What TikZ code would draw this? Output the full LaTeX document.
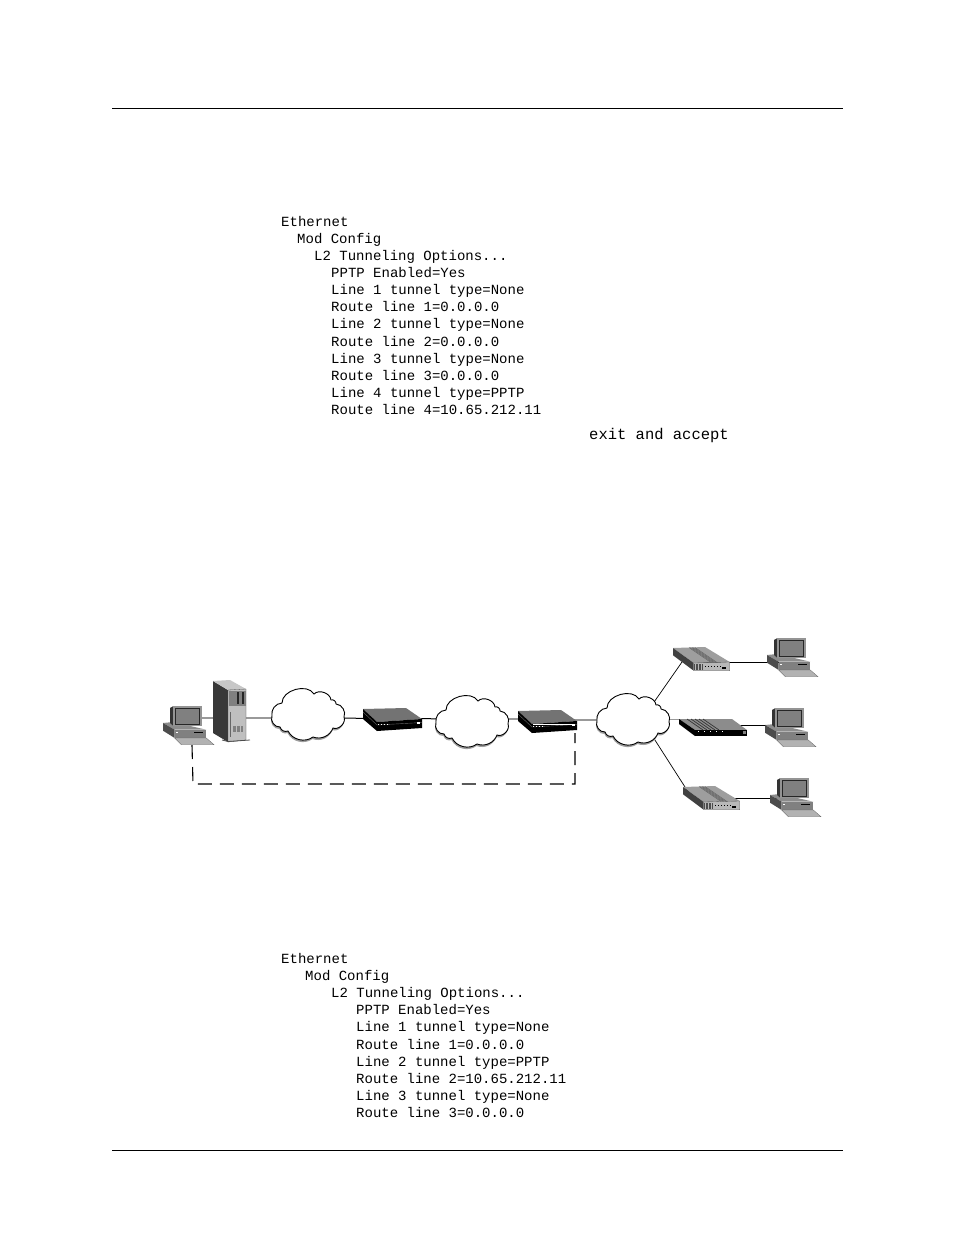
\documentclass[tikz,border=0pt]{standalone}
\usepackage{fontspec}
\setmonofont{Liberation Mono}
\tikzset{
  x=1pt,y=-1pt,
  code/.style={anchor=base west,inner sep=0pt,font=\ttfamily\fontsize{14}{14}\selectfont},
  codebig/.style={anchor=base west,inner sep=0pt,font=\ttfamily\fontsize{15.5}{15.5}\selectfont},
  rulel/.style={line width=0.8pt,black},
  linkb/.style={line width=1pt,black},
  linkg/.style={line width=1.6pt,black!40},
  linkt/.style={line width=0.7pt,black},
  dashl/.style={line width=1.1pt,black,dash pattern=on 14pt off 8pt},
  pics/computer/.style={code={
    \fill[black!45] (0,0)--(10,-1)--(43.3,6.7)--(11.7,6.7)--cycle;
    \fill[black!70] (0,0)--(11.7,6.7)--(11.7,15)--(0,7.7)--cycle;
    \fill[black!50] (11.7,6.7) rectangle (43.3,15);
    \fill[black!30,draw=black!60,line width=.3pt] (11.7,15)--(43.3,15)--(51,21.7)--(18.3,21.7)--cycle;
    \fill[black] (31,8.6) rectangle (40,9.8);
    \fill[white] (13,8.5) rectangle (15,10);
    \fill[black!80] (7,-15)--(10,-16.7)--(10,2.5)--(7,0)--cycle;
    \fill[black!42] (10,-16.7) rectangle (39,3.3);
    \fill[black!50,draw=black!85,line width=.6pt] (12.7,-14.3) rectangle (36.7,1.7);
  }},
  pics/lightmodem/.style={code={
    \fill[black!38] (0,0)--(32,-1)--(56.7,14)--(20.7,15)--cycle;
    \fill[black!75] (0,0)--(20.7,15)--(20.7,22.7)--(0,7.3)--cycle;
    \fill[black!28,draw=black!70,line width=.3pt] (20.7,15)--(56.7,14)--(56.7,22.7)--(20.7,22.7)--cycle;
    \foreach \s in {0,1.5,3,4.5,6}{\draw[black!60,line width=.5pt] (16+\s,-.5)--(38+\s,14.5);}
    \foreach \s in {21.5,23,24.5,26,27.5,29}{\draw[black!70,line width=.7pt] (\s,16)--(\s,22);}
    \foreach \s in {32,35,38,41,44,47}{\fill[black] (\s,17.5) rectangle +(.9,1.2);}
    \fill[black] (49,19) rectangle (53,21);
  }},
  pics/darkmodem/.style={code={
    \fill[black!55] (0,0)--(43,-1)--(59,10)--(14,13)--cycle;
    \fill[black] (0,0)--(14,13)--(14,22)--(0,10)--cycle;
    \fill[black] (14,13)--(59,10)--(59,19)--(14,22)--cycle;
    \draw[black!60,line width=.4pt] (0,3)--(14,16);
    \draw[black!60,line width=.4pt] (14,16)--(59,13.5);
    \foreach \s in {15,18,21,24}{\fill[white] (\s,15) rectangle +(.9,.9);}
    \fill[white] (54,12.5) rectangle (56.5,14.5);
  }},
  pics/flatmodem/.style={code={
    \fill[black!45] (0,0)--(53,0)--(68,11)--(16,11)--cycle;
    \fill[black] (0,0)--(16,11)--(16,17)--(0,5)--cycle;
    \fill[black] (16,11) rectangle (68,17);
    \foreach \s in {0,4,8,12,16}{\draw[black!80,line width=.7pt] (8+\s,0)--(24+\s,11);}
    \foreach \s in {19,25,31,37,43}{\fill[white] (\s,12) rectangle +(1.2,.9);}
    \fill[black!50] (64,12) rectangle (67,15);
  }},
  pics/cloudart/.style={code={
    \def\cloudpath{(-36,3) to[bend left=50] (-26,-10) to[bend left=75] (6,-19) to[bend left=65] (23,-13) to[bend left=60] (28,-9) to[bend left=55] (36,4) to[bend left=70] (25,15) to[bend left=45] (5,24) to[bend left=50] (-20,18) to[bend left=50] (-28,14) to[bend left=60] cycle}
    \fill[black!38,shift={(-.5,2)}] \cloudpath;
    \filldraw[fill=white,draw=black,line width=.9pt] \cloudpath;
  }},
}
\newcommand{\cl}[4]{\node[code] (#1) at (#2,#3) {#4};}
\begin{document}
\begin{tikzpicture}
\useasboundingbox[fill=white] (0,0) rectangle (954,1235);
\coordinate (ruleTopL) at (112,108); \coordinate (ruleTopR) at (843,108);
\coordinate (ruleBotL) at (112,1150); \coordinate (ruleBotR) at (843,1150);
\draw[rulel] (ruleTopL)--(ruleTopR);
\draw[rulel] (ruleBotL)--(ruleBotR);
% upper listing
\cl{a1}{281}{226}{Ethernet}
\cl{a2}{297}{243}{Mod Config}
\cl{a3}{314}{260}{L2 Tunneling Options...}
\cl{a4}{331}{277}{PPTP Enabled=Yes}
\cl{a5}{331}{294}{Line 1 tunnel type=None}
\cl{a6}{331}{311}{Route line 1=0.0.0.0}
\cl{a7}{331}{328}{Line 2 tunnel type=None}
\cl{a8}{331}{346}{Route line 2=0.0.0.0}
\cl{a9}{331}{363}{Line 3 tunnel type=None}
\cl{a10}{331}{380}{Route line 3=0.0.0.0}
\cl{a11}{331}{397}{Line 4 tunnel type=PPTP}
\cl{a12}{331}{414}{Route line 4=10.65.212.11}
\node[codebig] (a13) at (589,439) {exit and accept};
% lower listing
\cl{b1}{281}{963}{Ethernet}
\cl{b2}{305}{980}{Mod Config}
\cl{b3}{331}{997}{L2 Tunneling Options...}
\cl{b4}{356}{1014}{PPTP Enabled=Yes}
\cl{b5}{356}{1031}{Line 1 tunnel type=None}
\cl{b6}{356}{1049}{Route line 1=0.0.0.0}
\cl{b7}{356}{1066}{Line 2 tunnel type=PPTP}
\cl{b8}{356}{1083}{Route line 2=10.65.212.11}
\cl{b9}{356}{1100}{Line 3 tunnel type=None}
\cl{b10}{356}{1117}{Route line 3=0.0.0.0}
% attachment points of the diagram
\coordinate (pc) at (190,718);
\coordinate (srv) at (230,718);
\coordinate (cloudAw) at (300,718);
\coordinate (cloudAe) at (320,718);
\coordinate (modA) at (395,718.5);
\coordinate (cloudBw) at (470,719);
\coordinate (cloudBe) at (480,719);
\coordinate (modBw) at (540,719);
\coordinate (modBe) at (560,720);
\coordinate (cloudCw) at (630,720);
\coordinate (cloudCe) at (640,719);
\coordinate (cloudCn) at (640,722.2);
\coordinate (cloudCs) at (640,716.7);
\coordinate (remA) at (685,657.7);
\coordinate (remAe) at (700,662);
\coordinate (remB) at (700,719);
\coordinate (remBe) at (720,725);
\coordinate (remC) at (690,794.8);
\coordinate (remCe) at (715,798);
\coordinate (pcA) at (790,662);
\coordinate (pcB) at (790,725);
\coordinate (pcC) at (795,798);
\coordinate (dashA) at (192,745);
\coordinate (dashB) at (193,784);
\coordinate (dashC) at (575,784);
\coordinate (dashD) at (575,733);
% connectors
\draw[linkg] (pc)--(srv);
\draw[linkg] (srv)--(cloudAw);
\draw[linkb] (cloudAe)--(modA);
\draw[linkb] (modA)--(cloudBw);
\draw[linkg] (cloudBe)--(modBw);
\draw[linkg] (modBe)--(cloudCw);
\draw[linkt] (cloudCn)--(remA);
\draw[linkg,line width=1pt] (cloudCe)--(remB);
\draw[linkt] (cloudCs)--(remC);
\draw[linkb] (remAe)--(pcA);
\draw[linkb] (remBe)--(pcB);
\draw[linkb] (remCe)--(pcC);
\draw[dashl] (dashA)--(dashB)--(dashC)--(dashD);
% clouds
\pic at (308,713) {cloudart};
\pic at (472,720) {cloudart};
\pic at (633,718) {cloudart};
% server
\fill[black!78] (213,681)--(228,690)--(228,742)--(213,733)--cycle;
\fill[black!22] (213,681)--(230,680)--(246,689)--(228,690)--cycle;
\fill[black!25,draw=black!70,line width=.3pt] (228,690)--(246,689)--(246,740)--(228,742)--cycle;
\fill[black!50] (228.5,691) rectangle (245.5,705.5);
\fill[black!85] (237,692) rectangle (239,704);
\fill[black!85] (242,692) rectangle (243.5,704);
\fill[black!60] (229.5,712) rectangle (231,737);
\fill[black!50] (232.5,726) rectangle (236,732);
\fill[black!50] (237,726) rectangle (240,732);
\fill[black!50] (241,726) rectangle (243,732);
\draw[black!70,line width=.8pt] (222,740)--(228,741.5)--(250,740);
% computers
\pic at (163,723) {computer};
\pic at (767,655) {computer};
\pic at (765,725) {computer};
\pic at (770,795) {computer};
% dark modems
\pic at (363,709) {darkmodem};
\pic at (518,711) {darkmodem};
\draw[white,line width=.5pt] (533,724)--(575,724);
% remote modems
\pic at (673,648) {lightmodem};
\pic at (679,719) {flatmodem};
\pic at (683,787) {lightmodem};
\end{tikzpicture}
\end{document}
